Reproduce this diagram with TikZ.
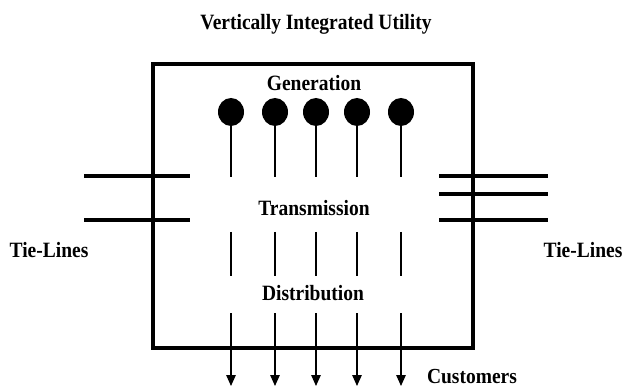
\documentclass[tikz,border=0pt]{standalone}
\usepackage{fontspec}
\setmainfont{Liberation Serif}
\usepackage{graphicx}
\usetikzlibrary{shapes.geometric,arrows.meta}
\begin{document}
\begin{tikzpicture}[x=1pt,y=-1pt,
  lbl/.style={inner sep=0pt,anchor=base,font=\fontsize{19.5}{20}\selectfont\bfseries},
  thick box/.style={line width=4pt},
  tie/.style={line width=4pt},
  wire/.style={line width=1.4pt},
  gen/.style={ellipse,fill=black,draw=none,minimum width=26pt,minimum height=28pt,inner sep=0pt},
  feed/.style={line width=1.4pt,-{Triangle[length=11pt,width=9.5pt]}}
]
\useasboundingbox (0,0) rectangle (626,387);
% utility box
\draw[thick box] (153,64) rectangle (473,348);
% title and labels
\node[lbl] (title) at (316,30) {\scalebox{1}[1.12]{Vertically Integrated Utility}};
\node[lbl] (genl) at (314,91) {\scalebox{1}[1.12]{Generation}};
\node[lbl] (trl) at (314,216) {\scalebox{1}[1.12]{Transmission}};
\node[lbl] (dil) at (313,300) {\scalebox{1}[1.12]{Distribution}};
\node[lbl] (tll) at (49,258) {\scalebox{1}[1.12]{Tie-Lines}};
\node[lbl] (tlr) at (583,258) {\scalebox{1}[1.12]{Tie-Lines}};
\node[lbl] (cust) at (472,383) {\scalebox{1}[1.1]{Customers}};
% generators, transmission and distribution feeders
\foreach \i/\x in {1/231,2/275,3/316,4/357,5/401}{
  \node[gen] (g\i) at (\x,112) {};
  \coordinate (ge\i) at (\x,177);
  \coordinate (ta\i) at (\x,232);
  \coordinate (tb\i) at (\x,276);
  \coordinate (da\i) at (\x,313);
  \coordinate (db\i) at (\x,386);
  \draw[wire] (g\i.south) -- (ge\i);
  \draw[wire] (ta\i) -- (tb\i);
  \draw[feed] (da\i) -- (db\i);
}
% tie-lines left
\coordinate (l1a) at (84,176); \coordinate (l1b) at (190,176);
\coordinate (l2a) at (84,220); \coordinate (l2b) at (190,220);
\draw[tie] (l1a) -- (l1b);
\draw[tie] (l2a) -- (l2b);
% tie-lines right
\coordinate (r1a) at (439,176); \coordinate (r1b) at (548,176);
\coordinate (r2a) at (439,194); \coordinate (r2b) at (548,194);
\coordinate (r3a) at (439,220); \coordinate (r3b) at (548,220);
\draw[tie] (r1a) -- (r1b);
\draw[tie] (r2a) -- (r2b);
\draw[tie] (r3a) -- (r3b);
\end{tikzpicture}
\end{document}
